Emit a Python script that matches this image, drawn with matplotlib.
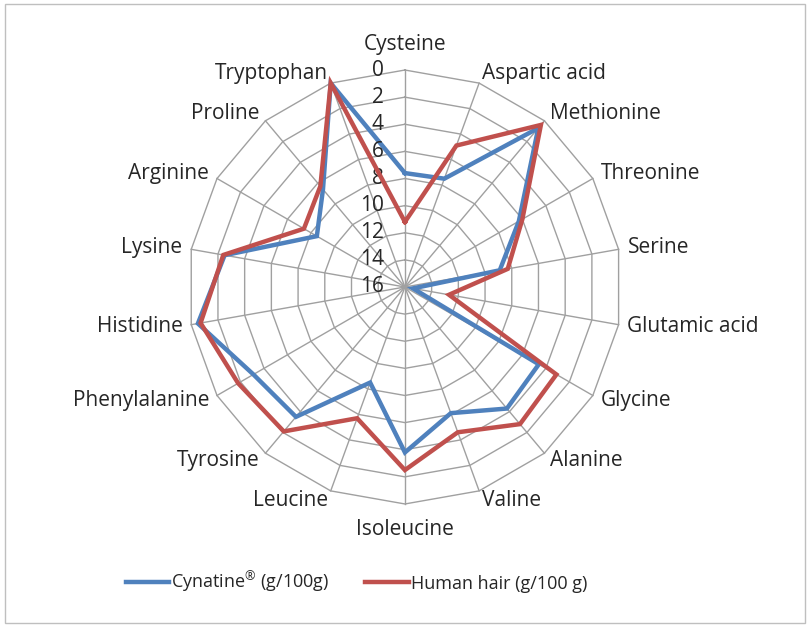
import matplotlib
matplotlib.use('Agg')
import matplotlib.pyplot as plt
import numpy as np
from matplotlib.patches import Rectangle

# amino acids, clockwise from top
categories = ['Cysteine', 'Aspartic acid', 'Methionine', 'Threonine', 'Serine',
              'Glutamic acid', 'Glycine', 'Alanine', 'Valine', 'Isoleucine',
              'Leucine', 'Tyrosine', 'Phenylalanine', 'Histidine', 'Lysine',
              'Arginine', 'Proline', 'Tryptophan']
cynatine = [7.6, 7.5, 0.7, 6.3, 8.9, 15.4, 4.6, 4.3, 6.1, 3.8,
            8.5, 3.5, 3.1, 0.5, 2.5, 8.5, 6.6, 0.0]
human_hair = [11.2, 4.9, 0.4, 6.0, 8.3, 12.7, 3.1, 2.8, 4.6, 2.5,
              5.7, 2.1, 1.8, 0.7, 2.4, 7.4, 6.3, 0.0]
rings = [0, 2, 4, 6, 8, 10, 12, 14, 16]
series_names = ['Cynatine$^{\u00ae}$ (g/100g)', 'Human hair (g/100 g)']

plt.rcParams['font.family'] = ['Open Sans', 'DejaVu Sans']
plt.rcParams['mathtext.fontset'] = 'custom'
plt.rcParams['mathtext.rm'] = 'Open Sans'
plt.rcParams['mathtext.it'] = 'Open Sans'
fontsize = 15
grid_col = '#a0a0a0'
text_col = '#262626'

fig = plt.figure(figsize=(8.10, 6.28), dpi=100)
fig.patches.append(Rectangle((0.006, 0.008), 0.988, 0.986, transform=fig.transFigure,
                             fill=False, edgecolor='#bfbfbf', lw=1))

ax = fig.add_axes([0.232, 0.1975, 0.5358, 0.691], projection='polar')
ax.set_theta_zero_location('N')
ax.set_theta_direction(-1)
ax.set_ylim(16, 0)
ax.grid(False)
ax.set_xticks([])
ax.set_yticks([])
ax.spines['polar'].set_visible(False)
ax.patch.set_alpha(0)

n = len(categories)
theta = np.arange(n) * 2 * np.pi / n
closed = np.append(theta, theta[0])

# polygon grid + spokes
for v in rings[:-1]:
    ax.plot(closed, [v] * (n + 1), color=grid_col, lw=1, clip_on=False, zorder=1)
for t in theta:
    ax.plot([t, t], [16, 0], color=grid_col, lw=1, clip_on=False, zorder=1)

ax.plot(closed, cynatine + cynatine[:1], color='#4f81bd', lw=3.2, clip_on=False,
        zorder=3, label=series_names[0], solid_joinstyle='miter')
ax.plot(closed, human_hair + human_hair[:1], color='#c0504d', lw=3.2, clip_on=False,
        zorder=4, label=series_names[1], solid_joinstyle='miter')

# value labels along the top spoke
for v in rings:
    ax.annotate(str(v), xy=(0, v), xytext=(-21, 0), textcoords='offset pixels',
                ha='right', va='center', fontsize=15, color=text_col)

# category labels
for t, name in zip(theta, categories):
    s, c = np.sin(t), np.cos(t)
    if abs(s) < 0.1:
        ha = 'center'
        va = 'bottom' if c > 0 else 'top'
        off = (0, 15 if c > 0 else -15)
    else:
        ha = 'left' if s > 0 else 'right'
        va = 'center'
        off = (9 * s, 10 * c)
    ax.annotate(name, xy=(t, 0), xytext=off, textcoords='offset pixels',
                ha=ha, va=va, fontsize=fontsize, color=text_col, annotation_clip=False)

fig.legend(loc='center', bbox_to_anchor=(0.44, 0.073), ncol=2, frameon=False,
           fontsize=13, handlelength=2.4, columnspacing=2.0, handletextpad=0.1,
           labelcolor=text_col)

fig.savefig('out.png', dpi=100)
